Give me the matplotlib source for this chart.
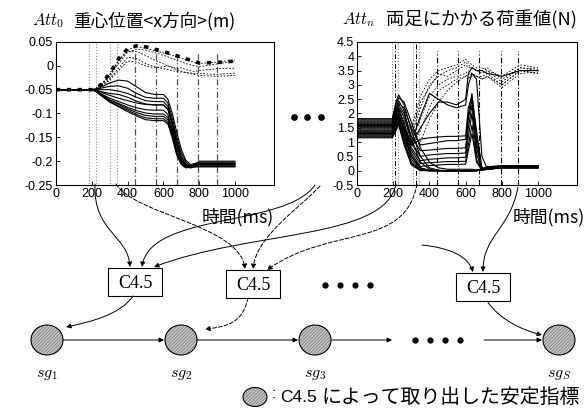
import matplotlib
matplotlib.use('Agg')
import matplotlib.pyplot as plt
from matplotlib.patches import Ellipse, Rectangle, FancyArrowPatch
from matplotlib.path import Path

plt.rcParams['font.family'] = ['Liberation Sans', 'Noto Sans CJK JP', 'DejaVu Sans']
plt.rcParams['mathtext.fontset'] = 'cm'
plt.rcParams['axes.unicode_minus'] = False
plt.rcParams['hatch.linewidth'] = 0.45
JP = ['Noto Sans CJK JP', 'DejaVu Sans']

# ---------------- left plot data: centre of gravity x (m) ----------------
t_left = [0, 100, 200, 220, 250, 300, 350, 400, 450, 500, 550, 600, 625, 650, 675, 700, 725, 750, 775, 800, 900, 1000]
left_solid = [
    [-0.050, -0.050, -0.050, -0.049, -0.045, -0.036, -0.030, -0.032, -0.044, -0.056, -0.060, -0.060, -0.070, -0.100, -0.140, -0.175, -0.198, -0.207, -0.205, -0.202, -0.202, -0.202],
    [-0.050, -0.050, -0.050, -0.049, -0.047, -0.043, -0.042, -0.047, -0.058, -0.066, -0.068, -0.068, -0.078, -0.110, -0.150, -0.183, -0.202, -0.210, -0.207, -0.205, -0.205, -0.205],
    [-0.050, -0.050, -0.050, -0.050, -0.050, -0.050, -0.053, -0.058, -0.066, -0.073, -0.075, -0.075, -0.085, -0.118, -0.158, -0.190, -0.206, -0.212, -0.209, -0.207, -0.207, -0.207],
    [-0.050, -0.050, -0.050, -0.051, -0.055, -0.062, -0.068, -0.073, -0.078, -0.081, -0.082, -0.082, -0.092, -0.125, -0.163, -0.193, -0.208, -0.214, -0.212, -0.210, -0.210, -0.210],
    [-0.050, -0.050, -0.050, -0.052, -0.058, -0.068, -0.075, -0.082, -0.088, -0.092, -0.093, -0.093, -0.102, -0.133, -0.170, -0.197, -0.210, -0.214, -0.212, -0.212, -0.212, -0.212],
    [-0.050, -0.050, -0.050, -0.052, -0.059, -0.071, -0.079, -0.087, -0.094, -0.099, -0.101, -0.101, -0.108, -0.138, -0.175, -0.200, -0.211, -0.213, -0.208, -0.200, -0.200, -0.200],
    [-0.050, -0.050, -0.050, -0.053, -0.060, -0.073, -0.081, -0.090, -0.098, -0.104, -0.106, -0.106, -0.113, -0.143, -0.180, -0.203, -0.212, -0.212, -0.206, -0.204, -0.204, -0.204],
    [-0.050, -0.050, -0.050, -0.053, -0.061, -0.075, -0.084, -0.093, -0.102, -0.109, -0.111, -0.111, -0.118, -0.148, -0.184, -0.205, -0.213, -0.212, -0.209, -0.208, -0.208, -0.208],
    [-0.050, -0.050, -0.050, -0.053, -0.062, -0.076, -0.086, -0.096, -0.105, -0.113, -0.115, -0.115, -0.122, -0.152, -0.188, -0.207, -0.214, -0.213, -0.211, -0.211, -0.211, -0.211],
    [-0.050, -0.050, -0.050, -0.051, -0.054, -0.058, -0.060, -0.066, -0.074, -0.080, -0.082, -0.082, -0.090, -0.122, -0.162, -0.192, -0.207, -0.212, -0.210, -0.206, -0.206, -0.206],
]
left_dashed = [
    [-0.050, -0.050, -0.050, -0.048, -0.040, -0.018, 0.012, 0.034, 0.040, 0.037, 0.032, 0.027, 0.025, 0.022, 0.019, 0.016, 0.013, 0.010, 0.007, 0.005, 0.008, 0.012],
    [-0.050, -0.050, -0.050, -0.048, -0.042, -0.022, 0.005, 0.028, 0.035, 0.033, 0.028, 0.022, 0.019, 0.015, 0.011, 0.008, 0.005, 0.002, 0.000, -0.002, 0.004, 0.010],
    [-0.050, -0.050, -0.050, -0.049, -0.043, -0.027, -0.005, 0.018, 0.015, 0.005, -0.002, -0.006, -0.008, -0.010, -0.012, -0.013, -0.014, -0.015, -0.016, -0.016, -0.018, -0.015],
    [-0.050, -0.050, -0.050, -0.048, -0.041, -0.020, 0.010, 0.030, 0.030, 0.022, 0.012, 0.004, 0.000, -0.004, -0.008, -0.011, -0.014, -0.016, -0.018, -0.020, -0.022, -0.020],
    [-0.050, -0.050, -0.050, -0.049, -0.044, -0.030, -0.010, 0.010, 0.008, 0.000, -0.004, -0.002, 0.000, -0.003, -0.006, -0.004, -0.008, -0.010, -0.012, -0.010, -0.006, -0.005],
]
left_bold = [-0.050, -0.050, -0.050, -0.048, -0.040, -0.016, 0.015, 0.036, 0.042, 0.040, 0.035, 0.030, 0.027, 0.024, 0.021, 0.018, 0.015, 0.012, 0.009, 0.006, 0.007, 0.010]
left_vlines = [441, 559, 676, 793, 899]
left_windows = [(184, 223), (302, 341)]
left_yticks = [0.05, 0, -0.05, -0.1, -0.15, -0.2, -0.25]
left_ylabels = ['0.05', '0', '-0.05', '-0.1', '-0.15', '-0.2', '-0.25']

# ---------------- right plot data: load on both feet (N) ----------------
t_right = [0, 195, 215, 230, 260, 300, 350, 400, 450, 500, 550, 600, 615, 635, 660, 690, 720, 800, 900, 1000]
right_solid = [
    [1.82, 1.82, 2.40, 2.65, 2.30, 1.40, 0.50, 0.10, 0.02, 0.00, 0.00, 0.00, 0.00, 0.00, 0.00, 0.05, 0.14, 0.16, 0.16, 0.16],
    [1.78, 1.78, 2.30, 2.55, 2.40, 1.70, 0.80, 0.30, 0.10, 0.05, 0.05, 0.05, 0.05, 0.05, 0.03, 0.05, 0.12, 0.15, 0.15, 0.15],
    [1.74, 1.74, 2.20, 2.45, 2.10, 1.10, 0.30, 0.05, 0.00, 0.00, 0.00, 0.00, 0.00, 0.00, 0.00, 0.04, 0.13, 0.16, 0.16, 0.16],
    [1.70, 1.70, 2.10, 2.35, 2.20, 1.50, 0.90, 0.95, 1.00, 1.05, 1.05, 1.10, 2.00, 2.70, 1.20, 0.10, 0.05, 0.12, 0.12, 0.12],
    [1.66, 1.66, 2.00, 2.30, 2.00, 1.20, 0.70, 0.72, 0.75, 0.78, 0.78, 0.80, 1.80, 2.50, 1.00, 0.05, 0.05, 0.12, 0.12, 0.12],
    [1.62, 1.62, 1.95, 2.20, 1.90, 1.00, 0.50, 0.55, 0.58, 0.60, 0.60, 0.62, 1.50, 2.30, 0.80, 0.05, 0.05, 0.10, 0.10, 0.10],
    [1.58, 1.58, 1.90, 2.15, 1.70, 0.80, 0.35, 0.40, 0.42, 0.45, 0.45, 0.47, 1.20, 2.00, 0.60, 0.02, 0.05, 0.10, 0.10, 0.10],
    [1.54, 1.54, 1.85, 2.10, 1.60, 0.70, 0.25, 0.28, 0.30, 0.32, 0.32, 0.33, 0.90, 1.60, 0.40, 0.02, 0.05, 0.10, 0.10, 0.10],
    [1.50, 1.50, 1.80, 2.00, 1.50, 0.60, 0.15, 0.18, 0.20, 0.22, 0.22, 0.23, 0.70, 1.30, 0.30, 0.02, 0.05, 0.10, 0.10, 0.10],
    [1.46, 1.46, 1.75, 1.95, 1.40, 0.50, 0.10, 0.02, 0.00, 0.00, 0.00, 0.00, 0.00, 0.00, 0.00, 0.05, 0.13, 0.15, 0.15, 0.15],
    [1.42, 1.42, 1.70, 1.90, 1.30, 0.40, 0.05, 0.00, 0.00, 0.00, 0.00, 0.00, 0.00, 0.00, 0.00, 0.04, 0.12, 0.14, 0.14, 0.14],
    [1.38, 1.38, 1.70, 1.85, 1.50, 1.00, 1.90, 2.70, 2.50, 2.30, 2.20, 2.30, 3.00, 3.40, 3.20, 0.50, 0.05, 0.12, 0.12, 0.12],
    [1.34, 1.34, 1.60, 1.80, 1.40, 0.90, 1.50, 2.00, 2.40, 2.40, 2.30, 2.50, 3.40, 3.60, 3.50, 3.50, 3.40, 3.30, 3.50, 3.50],
    [1.30, 1.30, 1.55, 1.75, 1.20, 0.50, 0.10, 0.00, 0.00, 0.00, 0.00, 0.00, 0.00, 0.00, 0.00, 0.03, 0.12, 0.15, 0.15, 0.15],
    [1.26, 1.26, 1.55, 1.70, 1.40, 0.90, 1.10, 1.15, 1.18, 1.20, 1.20, 1.22, 2.20, 2.60, 1.40, 0.10, 0.05, 0.12, 0.12, 0.12],
    [1.22, 1.22, 1.50, 1.70, 1.10, 0.30, 0.02, 0.00, 0.00, 0.00, 0.00, 0.00, 0.00, 0.00, 0.00, 0.04, 0.13, 0.16, 0.16, 0.16],
    [1.18, 1.18, 1.45, 1.65, 1.00, 0.25, 0.02, 0.00, 0.00, 0.00, 0.00, 0.00, 0.00, 0.00, 0.00, 0.05, 0.14, 0.17, 0.17, 0.17],
    [1.15, 1.15, 1.40, 1.60, 0.90, 0.20, 0.00, 0.00, 0.00, 0.00, 0.00, 0.00, 0.00, 0.00, 0.00, 0.05, 0.12, 0.15, 0.15, 0.15],
]
right_dashed = [
    [1.70, 1.70, 2.10, 2.30, 1.80, 1.20, 2.20, 3.00, 3.30, 3.50, 3.60, 3.80, 3.70, 3.60, 3.50, 3.40, 3.50, 3.10, 3.60, 3.50],
    [1.60, 1.60, 1.90, 2.20, 1.60, 1.50, 2.60, 3.20, 3.50, 3.60, 3.70, 3.90, 3.80, 3.70, 3.60, 3.60, 3.50, 3.30, 3.70, 3.60],
    [1.50, 1.50, 1.80, 2.00, 1.40, 1.00, 1.80, 2.60, 3.00, 3.20, 3.30, 3.40, 3.50, 3.40, 3.30, 3.30, 3.40, 3.00, 3.50, 3.40],
    [1.40, 1.40, 1.70, 1.90, 1.20, 0.80, 1.40, 2.20, 2.80, 3.00, 3.20, 3.30, 3.40, 3.30, 3.30, 3.20, 3.30, 2.90, 3.40, 3.45],
    [1.30, 1.30, 1.60, 1.80, 1.40, 1.30, 2.40, 2.90, 3.40, 3.30, 3.50, 3.70, 3.60, 3.60, 3.50, 3.50, 3.60, 3.20, 3.60, 3.55],
    [1.20, 1.20, 1.50, 1.70, 1.10, 0.60, 1.00, 1.80, 2.40, 2.80, 3.10, 3.30, 3.20, 3.40, 3.30, 3.20, 3.30, 3.00, 3.50, 3.40],
]
right_vlines = [442, 558, 674, 796, 890]
right_windows = [(193, 227), (309, 343)]
right_window_marks = [210, 326]
right_yticks = [4.5, 4, 3.5, 3, 2.5, 2, 1.5, 1, 0.5, 0, -0.5]
right_ylabels = ['4.5', '4', '3.5', '3', '2.5', '2', '1.5', '1', '0.5', '0', '-0.5']
xticks = [0, 200, 400, 600, 800, 1000]

W, H = 587, 411
fig = plt.figure(figsize=(W / 100, H / 100), dpi=100)


def setup(ax, ylim, yticks, ylabels, xmax):
    ax.set_xlim(0, xmax)
    ax.set_ylim(*ylim)
    ax.set_xticks(xticks)
    ax.set_xticklabels([str(v) for v in xticks])
    ax.set_yticks(yticks)
    ax.set_yticklabels(ylabels)
    ax.tick_params(direction='in', length=3, width=0.6, labelsize=9, pad=2)
    for s in ax.spines.values():
        s.set_linewidth(0.8)


axL = fig.add_axes([56 / W, 1 - 185 / H, 218 / W, 143 / H])
setup(axL, (-0.25, 0.05), left_yticks, left_ylabels, 1218)
for a, b in left_windows:
    axL.add_patch(Rectangle((a, 0), b - a, 1, transform=axL.get_xaxis_transform(),
                            fill=False, ec='#8c8c8c', lw=0.8, ls=':', clip_on=False))
for x in left_vlines:
    axL.axvline(x, ymin=0, ymax=0.93, color='#555555', lw=0.9, ls=(0, (5, 2, 1, 2)))
for y in left_dashed:
    axL.plot(t_left, y, color='black', lw=0.6, ls=(0, (2, 2)))
axL.plot(t_left, left_bold, color='black', lw=2.6, ls=(0, (1.2, 1.8)))
for y in left_solid:
    axL.plot(t_left, y, color='black', lw=0.8)

axR = fig.add_axes([357 / W, 1 - 185 / H, 220 / W, 143 / H])
setup(axR, (-0.5, 4.5), right_yticks, right_ylabels, 1215)
for a, b in right_windows:
    axR.add_patch(Rectangle((a, 0), b - a, 1, transform=axR.get_xaxis_transform(),
                            fill=False, ec='#8c8c8c', lw=0.8, ls=':', clip_on=False))
for x in right_window_marks:
    axR.axvline(x, color='black', lw=0.7, ls=(0, (5, 2, 1, 2)))
for x in right_vlines:
    axR.axvline(x, ymin=0, ymax=0.94, color='black', lw=0.8, ls=(0, (5, 2, 1, 2)))
for y in right_dashed:
    axR.plot(t_right, y, color='black', lw=0.6, ls=(0, (2, 2)))
for y in right_solid:
    axR.plot(t_right, y, color='black', lw=0.8)

# ---------------- overlay in pixel coordinates ----------------
ov = fig.add_axes([0, 0, 1, 1], zorder=5)
ov.set_xlim(0, W)
ov.set_ylim(H, 0)
ov.axis('off')
ov.patch.set_visible(False)

# titles
ov.text(32, 21, r'$Att_0$', fontsize=12, va='center', ha='left')
ov.text(73, 21, '重心位置<x方向>(m)', fontsize=12.7, va='center', ha='left', family=JP)
ov.text(342, 20, r'$Att_n$', fontsize=12, va='center', ha='left')
ov.text(386, 20, '両足にかかる荷重値(N)', fontsize=13.2, va='center', ha='left', family=JP)
ov.text(238, 217, '時間(ms)', fontsize=12.8, va='center', ha='center', family=JP)
ov.text(549, 217, '時間(ms)', fontsize=12.8, va='center', ha='center', family=JP)

# ellipsis dots
ov.plot([294, 307, 321], [117, 117, 117], 'o', color='black', ms=3.8)
ov.plot([325, 340, 355, 370], [285, 285, 285, 285], 'o', color='black', ms=3.5)
ov.plot([415, 430, 445, 460], [340, 340, 340, 340], 'o', color='black', ms=3.5)

# C4.5 boxes
boxes = [(135, 282), (253, 284), (483, 287)]
for cx, cy in boxes:
    ov.add_patch(Rectangle((cx - 27, cy - 14), 54, 28, fill=True, fc='white', ec='black', lw=0.8))
    ov.text(cx, cy + 1, 'C4.5', family='Liberation Serif', fontsize=13, ha='center', va='center')


def node(cx, cy, rx, ry):
    ov.add_patch(Ellipse((cx, cy), 2 * rx, 2 * ry, fc='#c4c4c4', ec='#707070', lw=0, hatch='//////////'))
    ov.add_patch(Ellipse((cx, cy), 2 * rx, 2 * ry, fill=False, ec='black', lw=0.8))


nodes = [(47, 340, r'$sg_1$'), (181, 340, r'$sg_2$'), (315, 340, r'$sg_3$'), (559, 340, r'$sg_S$')]
for cx, cy, lab in nodes:
    node(cx, cy, 16, 15)
    ov.text(cx, 374, lab, fontsize=11.5, ha='center', va='center')

node(255, 397, 12, 9.5)
ov.text(274, 394, ':', fontsize=11, ha='center', va='center')
ov.text(280, 397, 'C4.5', fontsize=12.5, ha='left', va='center', family='Liberation Sans')
ov.text(321, 397, 'によって取り出した安定指標', fontsize=14.3, ha='left', va='center', family=JP)


def arrow(p0, p1, p2, p3, dashed=False):
    path = Path([p0, p1, p2, p3], [Path.MOVETO, Path.CURVE4, Path.CURVE4, Path.CURVE4])
    ls = (0, (4, 2)) if dashed else '-'
    ov.add_patch(FancyArrowPatch(path=path, arrowstyle='-|>', mutation_scale=7,
                                 lw=0.7, color='black', linestyle=ls, shrinkA=0, shrinkB=0))


def straight(x0, x1, y):
    ov.add_patch(FancyArrowPatch((x0, y), (x1, y), arrowstyle='-|>', mutation_scale=7,
                                 lw=0.7, color='black', shrinkA=0, shrinkB=0))


arrow((95, 184), (93, 232), (128, 235), (130, 267))
arrow((116, 184), (135, 215), (240, 225), (245, 269), dashed=True)
arrow((320, 186), (300, 208), (256, 236), (253, 269), dashed=True)
arrow((315, 185), (285, 228), (150, 212), (142, 267))
arrow((396, 184), (385, 240), (250, 230), (154, 267))
arrow((417, 184), (405, 250), (330, 225), (267, 270), dashed=True)
arrow((422, 245), (450, 248), (468, 256), (473, 272))
arrow((518, 187), (510, 230), (483, 235), (483, 272))
arrow((133, 296), (120, 315), (90, 322), (66, 327))
arrow((248, 298), (243, 322), (228, 327), (205, 329), dashed=True)
arrow((487, 301), (500, 320), (522, 330), (542, 335))
straight(63, 164, 340)
straight(197, 298, 340)
straight(332, 392, 340)
straight(484, 542, 340)

fig.savefig('out.png', dpi=100)
